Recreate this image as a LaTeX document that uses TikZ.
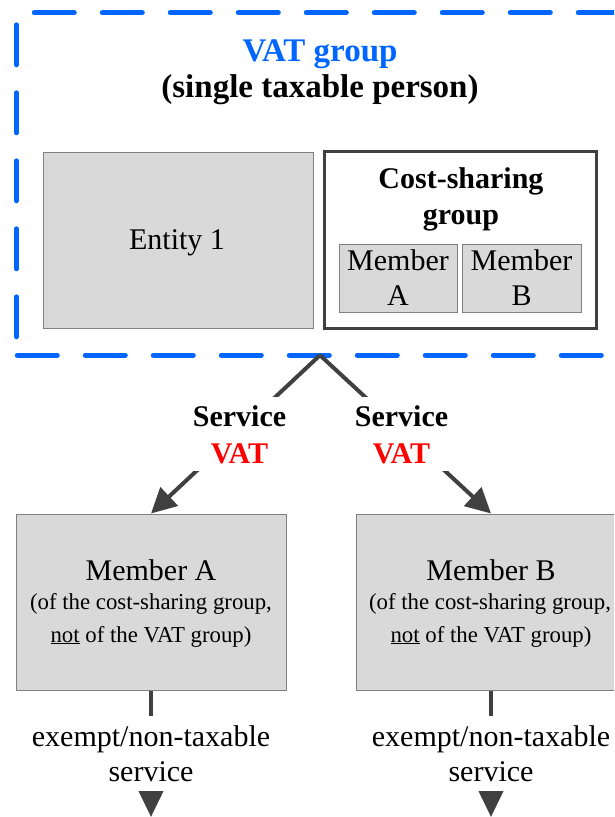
\documentclass[tikz,border=0pt]{standalone}
\usepackage{fontspec}
\setmainfont{Liberation Serif}
\usetikzlibrary{arrows.meta}
\definecolor{vatblue}{RGB}{0,102,255}
\definecolor{boxfill}{RGB}{217,217,217}
\definecolor{boxedge}{RGB}{128,128,128}
\definecolor{darkline}{RGB}{64,64,64}
\definecolor{vatred}{RGB}{255,0,0}
\begin{document}
\begin{tikzpicture}[x=1pt,y=-1pt,
  graybox/.style={draw=boxedge,fill=boxfill,line width=1pt,inner sep=0pt},
  txt/.style={font=\fontsize{30}{35}\selectfont,anchor=base,inner sep=0pt},
  smalltxt/.style={font=\fontsize{22.8}{28}\selectfont,anchor=base,inner sep=0pt},
  titletxt/.style={font=\fontsize{33}{40}\selectfont\bfseries,anchor=base,inner sep=0pt},
  boldtxt/.style={font=\fontsize{30}{35}\selectfont\bfseries,anchor=base,inner sep=0pt},
  groupedge/.style={draw=vatblue,line width=5pt,line cap=round,dash pattern=on 40pt off 28pt},
  flow/.style={draw=darkline,line width=4pt,-{Triangle[length=25pt,width=25pt]}},
  outflow/.style={draw=darkline,line width=4pt,-{Triangle[length=26pt,width=24pt]}},
  flowlabel/.style={fill=white,align=center,inner sep=8pt,font=\fontsize{30}{37}\selectfont\bfseries},
  outlabel/.style={fill=white,align=center,inner sep=9.5pt,font=\fontsize{30}{35}\selectfont},
]
\useasboundingbox (0,0) rectangle (614,817);
\clip (0,0) rectangle (614,817);

% VAT group frame
\node[minimum width=607pt,minimum height=342pt,inner sep=0pt] (vat) at (320,184) {};
\draw[groupedge] ([xshift=18pt]vat.north west) -- (vat.north east);
\draw[groupedge] ([yshift=-12pt]vat.north west) -- (vat.south west);
\draw[groupedge] ([xshift=1pt]vat.south west) -- (vat.south east);
\draw[groupedge] (vat.north east) -- (vat.south east);

\node[titletxt,text=vatblue] (title) at (320,61) {VAT group};
\node[titletxt] (subtitle) at (320,97) {(single taxable person)};

% Entity 1
\node[graybox,minimum width=270pt,minimum height=176pt] (ent) at (178,240) {};
\node[txt] (entname) at (177,249) {Entity 1};

% Cost-sharing group
\node[draw=darkline,fill=white,line width=3pt,minimum width=272.5pt,minimum height=177pt,inner sep=0pt] (csg) at (460.5,240) {};
\node[boldtxt] (csgname1) at (461,188) {Cost-sharing};
\node[boldtxt] (csgname2) at (461,224) {group};
\node[graybox,minimum width=118pt,minimum height=68pt] (csa) at (398,278) {};
\node[graybox,minimum width=119pt,minimum height=68pt] (csb) at (521.5,278) {};
\node[txt] (csa1) at (398,270) {Member};
\node[txt] (csa2) at (398,305) {A};
\node[txt] (csb1) at (521.5,270) {Member};
\node[txt] (csb2) at (521.5,305) {B};

% Members outside
\node[graybox,minimum width=270pt,minimum height=176pt] (memA) at (151,602) {};
\node[graybox,minimum width=270pt,minimum height=176pt] (memB) at (491,602) {};
\node[txt] (memA1) at (151,580) {Member A};
\node[smalltxt] (memA2) at (151,609) {(of the cost-sharing group,};
\node[smalltxt] (memA3) at (151,642) {\underline{not} of the VAT group)};
\node[txt] (memB1) at (491,580) {Member B};
\node[smalltxt] (memB2) at (490,609) {(of the cost-sharing group,};
\node[smalltxt] (memB3) at (491,642) {\underline{not} of the VAT group)};

% Service flows
\draw[flow] (vat.south) -- node[flowlabel,xshift=4pt] (svcA) {Service\\\textcolor{vatred}{VAT}} (memA.north);
\draw[flow] (vat.south) -- node[flowlabel,xshift=-4pt] (svcB) {Service\\\textcolor{vatred}{VAT}} (memB.north);

% Outgoing exempt services
\coordinate (endA) at (151,817);
\coordinate (endB) at (491,817);
\draw[outflow] (memA.south) -- node[outlabel] (exA) {exempt/non-taxable\\service} (endA);
\draw[outflow] (memB.south) -- node[outlabel] (exB) {exempt/non-taxable\\service} (endB);
\end{tikzpicture}
\end{document}
